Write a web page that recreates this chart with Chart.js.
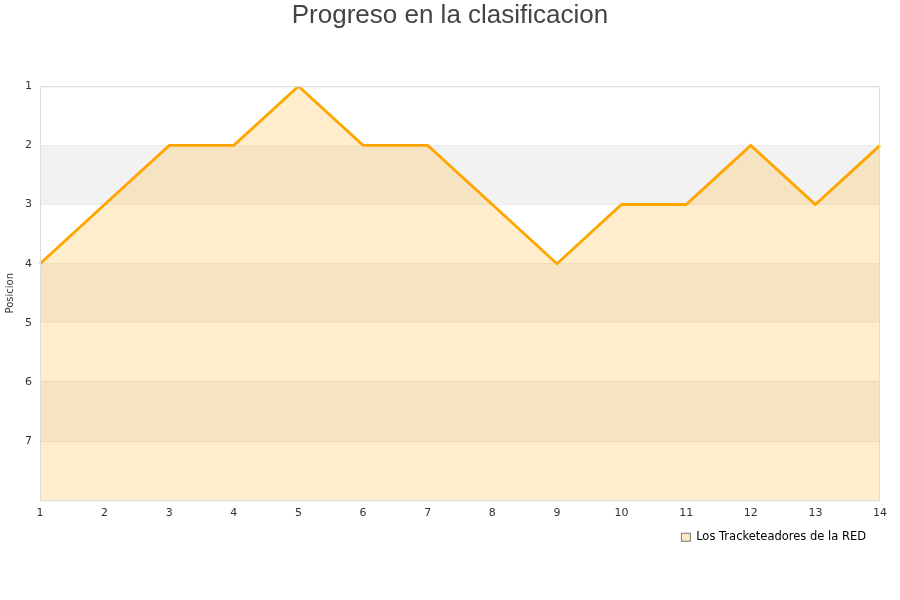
<!DOCTYPE html>
<html>
<head>
<meta charset="utf-8">
<script src="https://cdn.jsdelivr.net/npm/chart.js@4"></script>
<style>
  body { margin: 0; background: #fff; }
  #wrap { width: 900px; height: 600px; }
</style>
</head>
<body>
<div id="wrap"><canvas id="chart"></canvas></div>
<script>
let jornadas = ["1", "2", "3", "4", "5", "6", "7", "8", "9", "10", "11", "12", "13", "14"];
let posiciones = [4, 3, 2, 2, 1, 2, 2, 3, 4, 3, 3, 2, 3, 2];
let equipo = "Los Tracketeadores de la RED";
let bandas = [[2, 3], [4, 5], [6, 7]];

// franjas grises alternas + marco del area
const bandPlugin = {
    id: "bands",
    beforeDatasetsDraw(chart) {
        let ctx = chart.ctx;
        let area = chart.chartArea;
        let y = chart.scales.y;
        ctx.save();
        ctx.fillStyle = "#f2f2f2";
        bandas.forEach(b => {
            let y1 = y.getPixelForValue(b[0]);
            let y2 = y.getPixelForValue(b[1]);
            ctx.fillRect(area.left, y1, area.right - area.left, y2 - y1);
        });
        ctx.restore();
    },
    afterDatasetsDraw(chart) {
        let ctx = chart.ctx;
        let area = chart.chartArea;
        ctx.save();
        ctx.strokeStyle = "#dddddd";
        ctx.lineWidth = 1;
        ctx.strokeRect(area.left + 0.5, area.top + 0.5, area.right - area.left - 1, area.bottom - area.top);
        ctx.restore();
    }
};

let ctx = document.getElementById("chart").getContext("2d");
new Chart(ctx, {
    type: "line",
    data: {
        labels: jornadas,
        datasets: [{
            label: equipo,
            data: posiciones,
            borderColor: "#ffa500",
            borderWidth: 2.8,
            backgroundColor: "rgba(255,177,33,0.23)",
            fill: { value: 8 },
            pointRadius: 0,
            tension: 0
        }]
    },
    options: {
        responsive: true,
        maintainAspectRatio: false,
        animation: false,
        layout: { padding: { left: 20, right: 20, top: 0, bottom: 47 } },
        plugins: {
            title: {
                display: true,
                text: "Progreso en la clasificacion",
                color: "#444",
                font: { family: "Liberation Sans", size: 26, weight: "normal" },
                padding: { top: 0, bottom: 55 }
            },
            legend: {
                position: "bottom",
                align: "end",
                labels: {
                    color: "#000",
                    font: { family: "DejaVu Sans", size: 11.5 },
                    boxWidth: 9,
                    boxHeight: 8,
                    padding: 14,
                    generateLabels(chart) {
                        return [{
                            text: equipo,
                            fillStyle: "#ffe8bf",
                            strokeStyle: "#777",
                            lineWidth: 1,
                            datasetIndex: 0
                        }];
                    }
                }
            },
            tooltip: { enabled: false }
        },
        scales: {
            x: {
                offset: false,
                grid: { display: false },
                border: { display: false },
                ticks: {
                    color: "#333",
                    font: { family: "DejaVu Sans", size: 11 },
                    maxRotation: 0,
                    padding: -2
                }
            },
            y: {
                reverse: true,
                min: 1,
                max: 8,
                afterFit(scale) { scale.width = 20; },
                grid: { color: "#e4e4e4", drawTicks: false },
                border: { display: false },
                title: {
                    display: true,
                    text: "Posicion",
                    color: "#333",
                    font: { family: "DejaVu Sans", size: 10 },
                    padding: { top: -16, bottom: 0 }
                },
                ticks: {
                    stepSize: 1,
                    color: "#333",
                    font: { family: "DejaVu Sans", size: 11 },
                    padding: 8,
                    callback: v => (v === 8 ? "" : v)
                }
            }
        }
    },
    plugins: [bandPlugin]
});
</script>
</body>
</html>
